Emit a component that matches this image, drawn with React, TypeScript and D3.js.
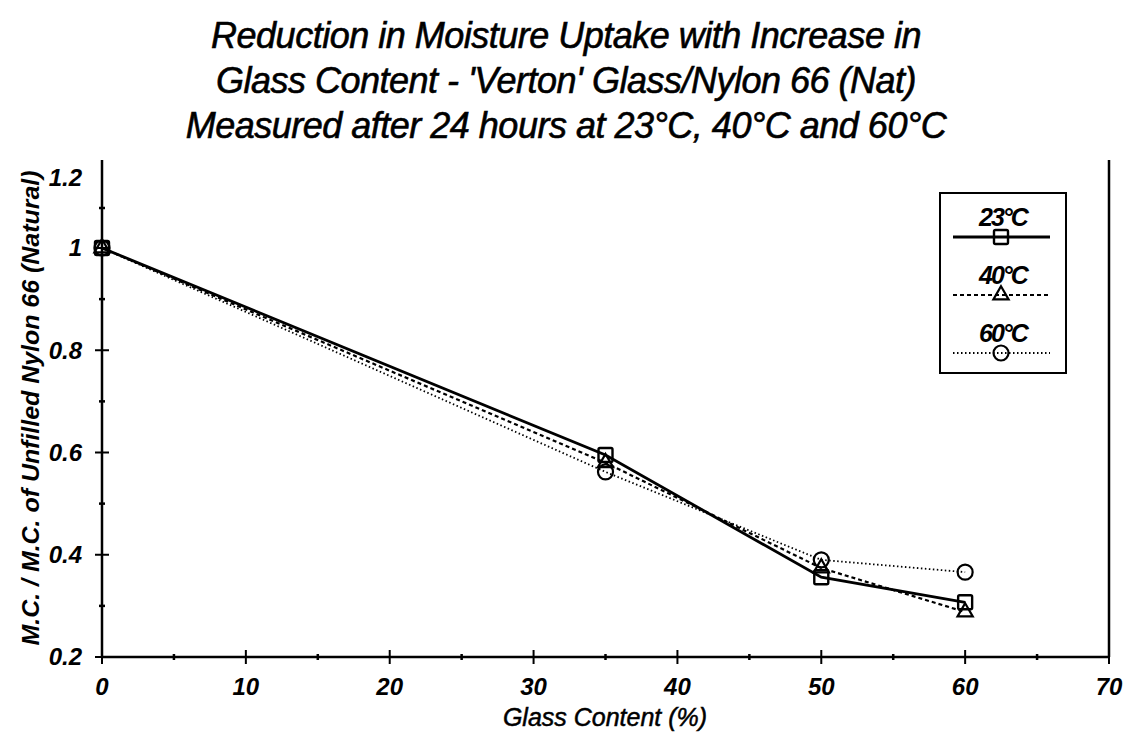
import { useEffect, useRef } from "react"
import * as d3 from "d3"

const glassContent = [0, 35, 50, 60]
const uptake23 = [1.0, 0.595, 0.356, 0.307]
const uptake40 = [1.0, 0.58, 0.374, 0.288]
const uptake60 = [1.0, 0.562, 0.39, 0.366]
const seriesNames = ["23°C", "40°C", "60°C"]

const xMajor = [0, 10, 20, 30, 40, 50, 60, 70]
const xMinor = [5, 15, 25, 35, 45, 55, 65]
const yMajor = [0.2, 0.4, 0.6, 0.8, 1, 1.2]
const yMinor = [0.3, 0.5, 0.7, 0.9, 1.1]
const yTickLabels = ["0.2", "0.4", "0.6", "0.8", "1", "1.2"]

const titleLines = [
  "Reduction in Moisture Uptake with Increase in",
  "Glass Content - 'Verton' Glass/Nylon 66 (Nat)",
  "Measured after 24 hours at 23°C, 40°C and 60°C",
]

const FONT = "'Liberation Sans', Arial, sans-serif"

export default function App() {
  const svgRef = useRef<SVGSVGElement>(null)

  useEffect(() => {
    if (!svgRef.current) return
    const svg = d3.select(svgRef.current)
    svg.selectAll("*").remove()

    const width = 1125
    const height = 734
    svg.attr("width", width).attr("height", height)

    svg.append("rect").attr("width", width).attr("height", height).attr("fill", "#fff")

    const x = d3.scaleLinear().domain([0, 70]).range([102, 1109])
    // * scan is squeezed above 1.0, so the scale is piecewise
    const y = d3.scaleLinear().domain([0.2, 1, 1.2]).range([657, 248, 168])

    // * Title
    titleLines.forEach((line, i) => {
      svg
        .append("text")
        .attr("x", 566)
        .attr("y", 48 + i * 45)
        .attr("text-anchor", "middle")
        .attr("font-family", FONT)
        .attr("font-style", "italic")
        .attr("font-size", "36px")
        .attr("fill", "#000")
        .attr("stroke", "#000")
        .attr("stroke-width", 0.6)
        .attr("letter-spacing", "-0.5")
        .text(line)
    })

    // * Frame: left axis, bottom axis, right edge (no top edge)
    const g = svg.append("g")
    g.append("line")
      .attr("x1", x(0)).attr("x2", x(0))
      .attr("y1", y(1.2) - 8).attr("y2", y(0.2))
      .attr("stroke", "#000").attr("stroke-width", 2.5)
    g.append("line")
      .attr("x1", x(70)).attr("x2", x(70))
      .attr("y1", y(1.2) - 8).attr("y2", y(0.2))
      .attr("stroke", "#000").attr("stroke-width", 2.5)
    g.append("line")
      .attr("x1", x(0)).attr("x2", x(70))
      .attr("y1", y(0.2)).attr("y2", y(0.2))
      .attr("stroke", "#000").attr("stroke-width", 2.5)

    // * X ticks
    g.selectAll(".xmaj")
      .data(xMajor)
      .join("line")
      .attr("x1", (d) => x(d)).attr("x2", (d) => x(d))
      .attr("y1", y(0.2) - 7).attr("y2", y(0.2) + 7)
      .attr("stroke", "#000").attr("stroke-width", 2)
    g.selectAll(".xmin")
      .data(xMinor)
      .join("line")
      .attr("x1", (d) => x(d)).attr("x2", (d) => x(d))
      .attr("y1", y(0.2) - 3).attr("y2", y(0.2) + 3)
      .attr("stroke", "#000").attr("stroke-width", 2.5)
    g.selectAll(".xlab")
      .data(xMajor)
      .join("text")
      .attr("x", (d) => x(d))
      .attr("y", y(0.2) + 38)
      .attr("text-anchor", "middle")
      .attr("font-family", FONT)
      .attr("font-style", "italic")
      .attr("font-weight", "bold")
      .attr("font-size", "24px")
      .text((d) => d)

    // * Y ticks
    g.selectAll(".ymaj")
      .data(yMajor.slice(0, 5))
      .join("line")
      .attr("x1", x(0) - 7).attr("x2", x(0) + 7)
      .attr("y1", (d) => y(d)).attr("y2", (d) => y(d))
      .attr("stroke", "#000").attr("stroke-width", 2)
    g.selectAll(".ymin")
      .data(yMinor)
      .join("line")
      .attr("x1", x(0) - 3).attr("x2", x(0) + 3)
      .attr("y1", (d) => y(d)).attr("y2", (d) => y(d))
      .attr("stroke", "#000").attr("stroke-width", 2.5)
    g.selectAll(".ylab")
      .data(yMajor)
      .join("text")
      .attr("x", x(0) - 20)
      .attr("y", (d) => y(d) + (d === 1.2 ? 10 : 0))
      .attr("dy", "0.35em")
      .attr("text-anchor", "end")
      .attr("font-family", FONT)
      .attr("font-style", "italic")
      .attr("font-weight", "bold")
      .attr("font-size", "24px")
      .text((d, i) => yTickLabels[i])

    // * Axis titles
    svg
      .append("text")
      .attr("x", 605)
      .attr("y", 726)
      .attr("text-anchor", "middle")
      .attr("font-family", FONT)
      .attr("font-style", "italic")
      .attr("font-size", "25px")
      .attr("stroke", "#000")
      .attr("stroke-width", 0.5)
      .text("Glass Content (%)")
    svg
      .append("text")
      .attr("transform", "translate(39,408) rotate(-90)")
      .attr("text-anchor", "middle")
      .attr("font-family", FONT)
      .attr("font-style", "italic")
      .attr("font-weight", "bold")
      .attr("font-size", "24px")
      .attr("textLength", 475)
      .attr("lengthAdjust", "spacingAndGlyphs")
      .text("M.C. / M.C. of Unfilled Nylon 66 (Natural)")

    // * Series
    const series = [
      { name: seriesNames[2], values: uptake60, dash: "1.5,2.5", width: 1.8, marker: "circle" },
      { name: seriesNames[1], values: uptake40, dash: "4,3", width: 2.2, marker: "triangle" },
      { name: seriesNames[0], values: uptake23, dash: null, width: 2.8, marker: "square" },
    ]

    const line = d3
      .line<number>()
      .x((_, i) => x(glassContent[i]))
      .y((d) => y(d))

    const drawMarker = (sel: d3.Selection<SVGGElement, unknown, null, undefined>, kind: string, cx: number, cy: number) => {
      if (kind === "circle") {
        sel.append("circle").attr("cx", cx).attr("cy", cy).attr("r", 7.5)
          .attr("fill", "none").attr("stroke", "#000").attr("stroke-width", 2.2)
      } else if (kind === "triangle") {
        sel.append("path")
          .attr("d", d3.symbol(d3.symbolTriangle, 100)())
          .attr("transform", `translate(${cx},${cy})`)
          .attr("fill", "none").attr("stroke", "#000").attr("stroke-width", 2.2)
      } else {
        sel.append("rect").attr("x", cx - 7).attr("y", cy - 7)
          .attr("width", 14).attr("height", 14).attr("rx", 1.5)
          .attr("fill", "none").attr("stroke", "#000").attr("stroke-width", 2.4)
      }
    }

    series.forEach((s) => {
      g.append("path")
        .datum(s.values)
        .attr("d", line)
        .attr("fill", "none")
        .attr("stroke", "#000")
        .attr("stroke-width", s.width)
        .attr("stroke-dasharray", s.dash)
    })
    series.forEach((s) => {
      const mg = g.append("g")
      s.values.forEach((v, i) => drawMarker(mg, s.marker, x(glassContent[i]), y(v)))
    })

    // * Legend
    const lg = svg.append("g")
    lg.append("rect")
      .attr("x", 940).attr("y", 193)
      .attr("width", 126).attr("height", 180)
      .attr("fill", "#fff").attr("stroke", "#000").attr("stroke-width", 2)
    const legendItems = [...series].reverse()
    legendItems.forEach((s, i) => {
      const ty = 226 + i * 58
      const ly = ty + 11
      lg.append("text")
        .attr("x", 1003)
        .attr("y", ty)
        .attr("text-anchor", "middle")
        .attr("font-family", FONT)
        .attr("font-style", "italic")
        .attr("font-weight", "bold")
        .attr("font-size", "25px")
        .attr("letter-spacing", "-2")
        .text(s.name)
      lg.append("line")
        .attr("x1", 953).attr("x2", 1050)
        .attr("y1", ly).attr("y2", ly)
        .attr("stroke", "#000")
        .attr("stroke-width", s.width)
        .attr("stroke-dasharray", s.dash)
      drawMarker(lg, s.marker, 1001, ly)
    })
  }, [])

  return (
    <div style={{ position: "absolute", left: 0, top: 0 }}>
      <svg ref={svgRef}></svg>
    </div>
  )
}
